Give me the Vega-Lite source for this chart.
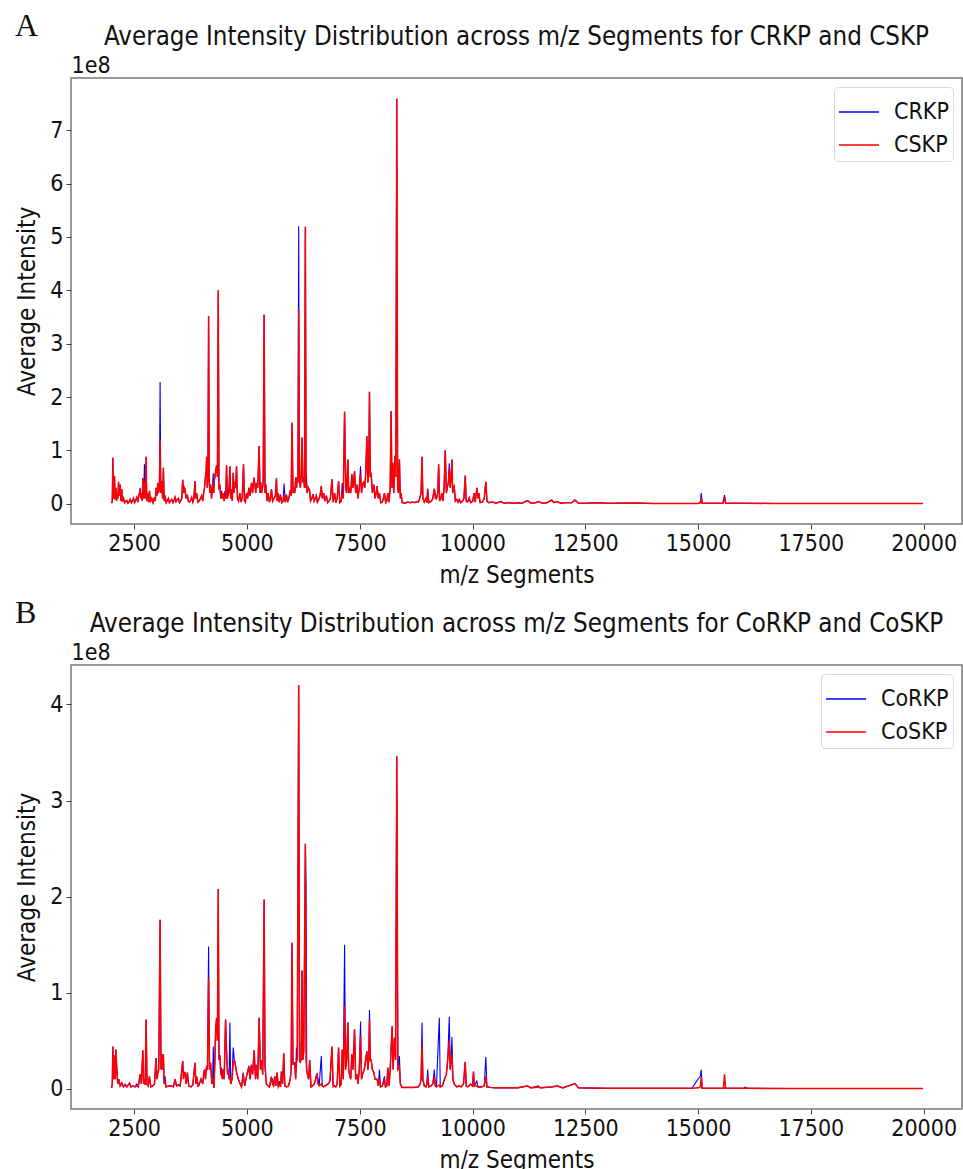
{
"$schema":"https://vega.github.io/schema/vega-lite/v6.json",
"padding":{"left":15,"top":9,"right":0,"bottom":0},
"config":{
 "font":"DejaVu Sans Condensed, DejaVu Sans",
 "view":{"stroke":"#777","strokeWidth":1.5},
 "axis":{"labelFont":"DejaVu Sans Condensed, DejaVu Sans","titleFont":"DejaVu Sans Condensed, DejaVu Sans","labelFontSize":23,"titleFontSize":24,"titleFontWeight":"normal","labelColor":"#111","titleColor":"#111","tickColor":"#444","tickSize":5,"domain":false,"grid":false,"labelPadding":3},
 "title":{"font":"DejaVu Sans Condensed, DejaVu Sans","fontSize":25.7,"fontWeight":"normal","color":"#111"},
 "legend":{"offset":9,"padding":4,"strokeColor":"#d9d9d9","cornerRadius":4,"fillColor":"white","symbolType":"stroke","symbolSize":1600,"symbolStrokeWidth":1.5,"labelFontSize":23,"labelFont":"DejaVu Sans Condensed, DejaVu Sans","labelColor":"#111","rowPadding":-1,"labelOffset":14}
},
"datasets":{
"a":[
{"mz":2000,"CSKP":0.01,"CRKP":0.01},{"mz":2015,"CSKP":0.05,"CRKP":0.05},{"mz":2028,"CSKP":0.86,"CRKP":0.86},{"mz":2040,"CSKP":0.1,"CRKP":0.1},{"mz":2052,"CSKP":0.3,"CRKP":0.3},{"mz":2065,"CSKP":0.52,"CRKP":0.52},{"mz":2075,"CSKP":0.08,"CRKP":0.08},{"mz":2085,"CSKP":0.25,"CRKP":0.25},{"mz":2095,"CSKP":0.3,"CRKP":0.3},{"mz":2110,"CSKP":0.05,"CRKP":0.05},{"mz":2125,"CSKP":0.2,"CRKP":0.2},{"mz":2140,"CSKP":0.1,"CRKP":0.1},{"mz":2154,"CSKP":0.41,"CRKP":0.41},{"mz":2165,"CSKP":0.15,"CRKP":0.15},{"mz":2178,"CSKP":0.3,"CRKP":0.3},{"mz":2191,"CSKP":0.36,"CRKP":0.36},{"mz":2205,"CSKP":0.05,"CRKP":0.05},{"mz":2215,"CSKP":0.22,"CRKP":0.22},{"mz":2227,"CSKP":0.27,"CRKP":0.27},{"mz":2240,"CSKP":0.04,"CRKP":0.04},{"mz":2264,"CSKP":0.1,"CRKP":0.1},{"mz":2290,"CSKP":0.02,"CRKP":0.02},{"mz":2315,"CSKP":0.05,"CRKP":0.05},{"mz":2338,"CSKP":0.06,"CRKP":0.06},{"mz":2360,"CSKP":0.01,"CRKP":0.01},{"mz":2390,"CSKP":0.04,"CRKP":0.04},{"mz":2412,"CSKP":0.08,"CRKP":0.08},{"mz":2440,"CSKP":0.02,"CRKP":0.02},{"mz":2465,"CSKP":0.06,"CRKP":0.06},{"mz":2485,"CSKP":0.1,"CRKP":0.1},{"mz":2510,"CSKP":0.02,"CRKP":0.02},{"mz":2535,"CSKP":0.07,"CRKP":0.07},{"mz":2559,"CSKP":0.12,"CRKP":0.12},{"mz":2580,"CSKP":0.03,"CRKP":0.03},{"mz":2605,"CSKP":0.15,"CRKP":0.15},{"mz":2633,"CSKP":0.26,"CRKP":0.3},{"mz":2650,"CSKP":0.1,"CRKP":0.1},{"mz":2665,"CSKP":0.2,"CRKP":0.2},{"mz":2680,"CSKP":0.05,"CRKP":0.05},{"mz":2692,"CSKP":0.475,"CRKP":0.475},{"mz":2710,"CSKP":0.1,"CRKP":0.1},{"mz":2728,"CSKP":0.4,"CRKP":0.74},{"mz":2745,"CSKP":0.1,"CRKP":0.1},{"mz":2765,"CSKP":0.88,"CRKP":0.88},{"mz":2780,"CSKP":0.05,"CRKP":0.05},{"mz":2802,"CSKP":0.2,"CRKP":0.2},{"mz":2820,"CSKP":0.03,"CRKP":0.03},{"mz":2839,"CSKP":0.24,"CRKP":0.24},{"mz":2860,"CSKP":0.03,"CRKP":0.03},{"mz":2891,"CSKP":0.1,"CRKP":0.1},{"mz":2920,"CSKP":0.02,"CRKP":0.02},{"mz":2950,"CSKP":0.12,"CRKP":0.12},{"mz":2970,"CSKP":0.05,"CRKP":0.05},{"mz":2986,"CSKP":0.3,"CRKP":0.3},{"mz":3005,"CSKP":0.15,"CRKP":0.15},{"mz":3023,"CSKP":0.39,"CRKP":0.39},{"mz":3040,"CSKP":0.2,"CRKP":0.2},{"mz":3060,"CSKP":0.3,"CRKP":0.3},{"mz":3075,"CSKP":1.19,"CRKP":2.28},{"mz":3090,"CSKP":0.2,"CRKP":0.2},{"mz":3112,"CSKP":0.42,"CRKP":0.42},{"mz":3130,"CSKP":0.1,"CRKP":0.1},{"mz":3148,"CSKP":0.675,"CRKP":0.675},{"mz":3165,"CSKP":0.05,"CRKP":0.05},{"mz":3185,"CSKP":0.15,"CRKP":0.15},{"mz":3210,"CSKP":0.02,"CRKP":0.02},{"mz":3235,"CSKP":0.06,"CRKP":0.06},{"mz":3259,"CSKP":0.1,"CRKP":0.1},{"mz":3280,"CSKP":0.02,"CRKP":0.02},{"mz":3305,"CSKP":0.05,"CRKP":0.05},{"mz":3333,"CSKP":0.08,"CRKP":0.08},{"mz":3360,"CSKP":0.02,"CRKP":0.02},{"mz":3385,"CSKP":0.06,"CRKP":0.06},{"mz":3406,"CSKP":0.12,"CRKP":0.12},{"mz":3430,"CSKP":0.04,"CRKP":0.04},{"mz":3455,"CSKP":0.08,"CRKP":0.08},{"mz":3480,"CSKP":0.1,"CRKP":0.1},{"mz":3505,"CSKP":0.02,"CRKP":0.02},{"mz":3530,"CSKP":0.05,"CRKP":0.05},{"mz":3555,"CSKP":0.1,"CRKP":0.1},{"mz":3576,"CSKP":0.45,"CRKP":0.45},{"mz":3595,"CSKP":0.2,"CRKP":0.2},{"mz":3610,"CSKP":0.3,"CRKP":0.3},{"mz":3627,"CSKP":0.27,"CRKP":0.27},{"mz":3650,"CSKP":0.1,"CRKP":0.1},{"mz":3679,"CSKP":0.17,"CRKP":0.17},{"mz":3700,"CSKP":0.05,"CRKP":0.05},{"mz":3725,"CSKP":0.03,"CRKP":0.03},{"mz":3750,"CSKP":0.06,"CRKP":0.06},{"mz":3775,"CSKP":0.12,"CRKP":0.12},{"mz":3800,"CSKP":0.03,"CRKP":0.03},{"mz":3825,"CSKP":0.1,"CRKP":0.1},{"mz":3848,"CSKP":0.42,"CRKP":0.42},{"mz":3865,"CSKP":0.1,"CRKP":0.1},{"mz":3885,"CSKP":0.2,"CRKP":0.2},{"mz":3910,"CSKP":0.03,"CRKP":0.03},{"mz":3940,"CSKP":0.05,"CRKP":0.05},{"mz":3970,"CSKP":0.1,"CRKP":0.1},{"mz":3996,"CSKP":0.15,"CRKP":0.15},{"mz":4020,"CSKP":0.05,"CRKP":0.05},{"mz":4040,"CSKP":0.2,"CRKP":0.2},{"mz":4060,"CSKP":0.3,"CRKP":0.3},{"mz":4080,"CSKP":0.5,"CRKP":0.5},{"mz":4095,"CSKP":0.6,"CRKP":0.6},{"mz":4106,"CSKP":0.88,"CRKP":0.88},{"mz":4120,"CSKP":0.3,"CRKP":0.3},{"mz":4135,"CSKP":0.5,"CRKP":0.5},{"mz":4150,"CSKP":3.52,"CRKP":3.52},{"mz":4165,"CSKP":0.4,"CRKP":0.4},{"mz":4180,"CSKP":0.2,"CRKP":0.2},{"mz":4195,"CSKP":0.36,"CRKP":0.36},{"mz":4215,"CSKP":0.1,"CRKP":0.1},{"mz":4235,"CSKP":0.3,"CRKP":0.3},{"mz":4254,"CSKP":0.4,"CRKP":0.57},{"mz":4265,"CSKP":0.2,"CRKP":0.2},{"mz":4276,"CSKP":0.45,"CRKP":0.45},{"mz":4290,"CSKP":0.5,"CRKP":0.5},{"mz":4305,"CSKP":0.6,"CRKP":0.6},{"mz":4327,"CSKP":0.72,"CRKP":0.72},{"mz":4345,"CSKP":0.5,"CRKP":0.5},{"mz":4364,"CSKP":4.0,"CRKP":4.0},{"mz":4380,"CSKP":0.3,"CRKP":0.3},{"mz":4401,"CSKP":0.33,"CRKP":0.33},{"mz":4420,"CSKP":0.1,"CRKP":0.1},{"mz":4438,"CSKP":0.15,"CRKP":0.24},{"mz":4455,"CSKP":0.1,"CRKP":0.1},{"mz":4475,"CSKP":0.2,"CRKP":0.2},{"mz":4495,"CSKP":0.05,"CRKP":0.05},{"mz":4511,"CSKP":0.15,"CRKP":0.24},{"mz":4530,"CSKP":0.1,"CRKP":0.1},{"mz":4548,"CSKP":0.72,"CRKP":0.72},{"mz":4565,"CSKP":0.1,"CRKP":0.1},{"mz":4585,"CSKP":0.15,"CRKP":0.27},{"mz":4600,"CSKP":0.2,"CRKP":0.2},{"mz":4622,"CSKP":0.7,"CRKP":0.7},{"mz":4640,"CSKP":0.1,"CRKP":0.1},{"mz":4659,"CSKP":0.27,"CRKP":0.27},{"mz":4675,"CSKP":0.05,"CRKP":0.05},{"mz":4696,"CSKP":0.58,"CRKP":0.58},{"mz":4715,"CSKP":0.2,"CRKP":0.2},{"mz":4733,"CSKP":0.4,"CRKP":0.4},{"mz":4750,"CSKP":0.3,"CRKP":0.3},{"mz":4769,"CSKP":0.7,"CRKP":0.7},{"mz":4790,"CSKP":0.1,"CRKP":0.1},{"mz":4815,"CSKP":0.05,"CRKP":0.05},{"mz":4843,"CSKP":0.2,"CRKP":0.2},{"mz":4870,"CSKP":0.03,"CRKP":0.03},{"mz":4895,"CSKP":0.1,"CRKP":0.1},{"mz":4924,"CSKP":0.74,"CRKP":0.74},{"mz":4945,"CSKP":0.05,"CRKP":0.05},{"mz":4965,"CSKP":0.03,"CRKP":0.03},{"mz":4990,"CSKP":0.2,"CRKP":0.2},{"mz":5015,"CSKP":0.1,"CRKP":0.1},{"mz":5042,"CSKP":0.3,"CRKP":0.3},{"mz":5070,"CSKP":0.15,"CRKP":0.15},{"mz":5101,"CSKP":0.39,"CRKP":0.39},{"mz":5125,"CSKP":0.2,"CRKP":0.2},{"mz":5153,"CSKP":0.49,"CRKP":0.49},{"mz":5175,"CSKP":0.36,"CRKP":0.36},{"mz":5195,"CSKP":0.2,"CRKP":0.2},{"mz":5211,"CSKP":0.39,"CRKP":0.39},{"mz":5240,"CSKP":0.3,"CRKP":0.3},{"mz":5270,"CSKP":1.08,"CRKP":1.08},{"mz":5290,"CSKP":0.2,"CRKP":0.2},{"mz":5305,"CSKP":0.4,"CRKP":0.4},{"mz":5322,"CSKP":0.2,"CRKP":0.2},{"mz":5345,"CSKP":0.3,"CRKP":0.3},{"mz":5360,"CSKP":0.4,"CRKP":0.4},{"mz":5381,"CSKP":3.54,"CRKP":3.54},{"mz":5400,"CSKP":0.2,"CRKP":0.2},{"mz":5418,"CSKP":0.36,"CRKP":0.36},{"mz":5445,"CSKP":0.05,"CRKP":0.05},{"mz":5469,"CSKP":0.2,"CRKP":0.2},{"mz":5500,"CSKP":0.03,"CRKP":0.03},{"mz":5520,"CSKP":0.1,"CRKP":0.1},{"mz":5543,"CSKP":0.27,"CRKP":0.27},{"mz":5570,"CSKP":0.05,"CRKP":0.05},{"mz":5600,"CSKP":0.1,"CRKP":0.1},{"mz":5630,"CSKP":0.15,"CRKP":0.15},{"mz":5654,"CSKP":0.475,"CRKP":0.475},{"mz":5670,"CSKP":0.05,"CRKP":0.05},{"mz":5690,"CSKP":0.2,"CRKP":0.2},{"mz":5715,"CSKP":0.03,"CRKP":0.03},{"mz":5742,"CSKP":0.17,"CRKP":0.17},{"mz":5770,"CSKP":0.02,"CRKP":0.02},{"mz":5800,"CSKP":0.05,"CRKP":0.05},{"mz":5823,"CSKP":0.15,"CRKP":0.38},{"mz":5850,"CSKP":0.03,"CRKP":0.03},{"mz":5875,"CSKP":0.17,"CRKP":0.17},{"mz":5900,"CSKP":0.03,"CRKP":0.03},{"mz":5930,"CSKP":0.1,"CRKP":0.1},{"mz":5960,"CSKP":0.25,"CRKP":0.25},{"mz":5980,"CSKP":0.15,"CRKP":0.15},{"mz":6000,"CSKP":1.52,"CRKP":1.52},{"mz":6020,"CSKP":0.2,"CRKP":0.2},{"mz":6040,"CSKP":0.3,"CRKP":0.3},{"mz":6060,"CSKP":0.2,"CRKP":0.2},{"mz":6081,"CSKP":0.49,"CRKP":0.49},{"mz":6100,"CSKP":0.3,"CRKP":0.3},{"mz":6115,"CSKP":0.5,"CRKP":0.5},{"mz":6130,"CSKP":0.4,"CRKP":0.4},{"mz":6147,"CSKP":3.64,"CRKP":5.2},{"mz":6160,"CSKP":0.6,"CRKP":0.6},{"mz":6169,"CSKP":0.4,"CRKP":0.4},{"mz":6185,"CSKP":0.3,"CRKP":0.3},{"mz":6200,"CSKP":0.5,"CRKP":0.5},{"mz":6221,"CSKP":1.24,"CRKP":1.24},{"mz":6240,"CSKP":0.4,"CRKP":0.4},{"mz":6260,"CSKP":0.5,"CRKP":0.5},{"mz":6275,"CSKP":0.3,"CRKP":0.3},{"mz":6295,"CSKP":5.19,"CRKP":5.19},{"mz":6310,"CSKP":0.3,"CRKP":0.3},{"mz":6317,"CSKP":0.4,"CRKP":0.52},{"mz":6335,"CSKP":0.2,"CRKP":0.2},{"mz":6360,"CSKP":0.3,"CRKP":0.3},{"mz":6390,"CSKP":0.25,"CRKP":0.25},{"mz":6410,"CSKP":0.05,"CRKP":0.05},{"mz":6440,"CSKP":0.1,"CRKP":0.1},{"mz":6464,"CSKP":0.18,"CRKP":0.18},{"mz":6490,"CSKP":0.05,"CRKP":0.05},{"mz":6515,"CSKP":0.1,"CRKP":0.1},{"mz":6538,"CSKP":0.15,"CRKP":0.15},{"mz":6560,"CSKP":0.03,"CRKP":0.03},{"mz":6590,"CSKP":0.08,"CRKP":0.08},{"mz":6620,"CSKP":0.15,"CRKP":0.15},{"mz":6648,"CSKP":0.33,"CRKP":0.33},{"mz":6670,"CSKP":0.1,"CRKP":0.1},{"mz":6700,"CSKP":0.2,"CRKP":0.2},{"mz":6725,"CSKP":0.05,"CRKP":0.05},{"mz":6759,"CSKP":0.15,"CRKP":0.15},{"mz":6790,"CSKP":0.02,"CRKP":0.02},{"mz":6820,"CSKP":0.05,"CRKP":0.05},{"mz":6850,"CSKP":0.1,"CRKP":0.1},{"mz":6884,"CSKP":0.46,"CRKP":0.46},{"mz":6910,"CSKP":0.03,"CRKP":0.03},{"mz":6943,"CSKP":0.2,"CRKP":0.2},{"mz":6970,"CSKP":0.02,"CRKP":0.02},{"mz":7000,"CSKP":0.1,"CRKP":0.1},{"mz":7031,"CSKP":0.42,"CRKP":0.42},{"mz":7060,"CSKP":0.02,"CRKP":0.02},{"mz":7090,"CSKP":0.05,"CRKP":0.05},{"mz":7112,"CSKP":0.2,"CRKP":0.39},{"mz":7135,"CSKP":0.1,"CRKP":0.1},{"mz":7164,"CSKP":1.725,"CRKP":1.725},{"mz":7190,"CSKP":0.3,"CRKP":0.3},{"mz":7210,"CSKP":0.2,"CRKP":0.2},{"mz":7238,"CSKP":0.83,"CRKP":0.83},{"mz":7255,"CSKP":0.2,"CRKP":0.2},{"mz":7274,"CSKP":0.3,"CRKP":0.3},{"mz":7300,"CSKP":0.2,"CRKP":0.2},{"mz":7326,"CSKP":0.55,"CRKP":0.55},{"mz":7345,"CSKP":0.3,"CRKP":0.3},{"mz":7360,"CSKP":0.35,"CRKP":0.35},{"mz":7385,"CSKP":0.61,"CRKP":0.61},{"mz":7410,"CSKP":0.2,"CRKP":0.2},{"mz":7437,"CSKP":0.36,"CRKP":0.36},{"mz":7460,"CSKP":0.1,"CRKP":0.1},{"mz":7490,"CSKP":0.3,"CRKP":0.3},{"mz":7518,"CSKP":0.55,"CRKP":0.7},{"mz":7540,"CSKP":0.2,"CRKP":0.2},{"mz":7560,"CSKP":0.36,"CRKP":0.36},{"mz":7584,"CSKP":0.4,"CRKP":0.4},{"mz":7610,"CSKP":0.3,"CRKP":0.3},{"mz":7635,"CSKP":0.6,"CRKP":0.6},{"mz":7658,"CSKP":1.27,"CRKP":1.27},{"mz":7680,"CSKP":0.4,"CRKP":0.4},{"mz":7700,"CSKP":0.6,"CRKP":0.6},{"mz":7716,"CSKP":2.1,"CRKP":2.1},{"mz":7735,"CSKP":0.5,"CRKP":0.5},{"mz":7753,"CSKP":0.58,"CRKP":0.58},{"mz":7780,"CSKP":0.2,"CRKP":0.2},{"mz":7812,"CSKP":0.36,"CRKP":0.36},{"mz":7840,"CSKP":0.1,"CRKP":0.1},{"mz":7865,"CSKP":0.2,"CRKP":0.2},{"mz":7886,"CSKP":0.33,"CRKP":0.33},{"mz":7910,"CSKP":0.1,"CRKP":0.1},{"mz":7938,"CSKP":0.2,"CRKP":0.2},{"mz":7965,"CSKP":0.02,"CRKP":0.02},{"mz":8000,"CSKP":0.03,"CRKP":0.03},{"mz":8025,"CSKP":0.1,"CRKP":0.1},{"mz":8048,"CSKP":0.2,"CRKP":0.2},{"mz":8075,"CSKP":0.02,"CRKP":0.02},{"mz":8100,"CSKP":0.05,"CRKP":0.05},{"mz":8122,"CSKP":0.2,"CRKP":0.2},{"mz":8150,"CSKP":0.03,"CRKP":0.03},{"mz":8175,"CSKP":0.3,"CRKP":0.3},{"mz":8195,"CSKP":1.74,"CRKP":1.74},{"mz":8215,"CSKP":0.3,"CRKP":0.3},{"mz":8232,"CSKP":0.77,"CRKP":0.77},{"mz":8255,"CSKP":0.2,"CRKP":0.2},{"mz":8280,"CSKP":0.9,"CRKP":0.9},{"mz":8300,"CSKP":0.5,"CRKP":0.5},{"mz":8321,"CSKP":7.59,"CRKP":7.59},{"mz":8340,"CSKP":0.3,"CRKP":0.3},{"mz":8360,"CSKP":0.2,"CRKP":0.2},{"mz":8380,"CSKP":0.83,"CRKP":0.83},{"mz":8400,"CSKP":0.1,"CRKP":0.1},{"mz":8417,"CSKP":0.2,"CRKP":0.2},{"mz":8440,"CSKP":0.02,"CRKP":0.02},{"mz":8500,"CSKP":0.01,"CRKP":0.01},{"mz":8560,"CSKP":0.03,"CRKP":0.03},{"mz":8620,"CSKP":0.02,"CRKP":0.02},{"mz":8674,"CSKP":0.03,"CRKP":0.03},{"mz":8720,"CSKP":0.02,"CRKP":0.02},{"mz":8760,"CSKP":0.04,"CRKP":0.04},{"mz":8800,"CSKP":0.03,"CRKP":0.03},{"mz":8830,"CSKP":0.1,"CRKP":0.1},{"mz":8860,"CSKP":0.2,"CRKP":0.2},{"mz":8881,"CSKP":0.88,"CRKP":0.88},{"mz":8900,"CSKP":0.1,"CRKP":0.1},{"mz":8930,"CSKP":0.03,"CRKP":0.03},{"mz":8969,"CSKP":0.1,"CRKP":0.1},{"mz":8990,"CSKP":0.02,"CRKP":0.02},{"mz":9006,"CSKP":0.28,"CRKP":0.28},{"mz":9030,"CSKP":0.02,"CRKP":0.02},{"mz":9060,"CSKP":0.03,"CRKP":0.03},{"mz":9090,"CSKP":0.05,"CRKP":0.05},{"mz":9120,"CSKP":0.1,"CRKP":0.1},{"mz":9153,"CSKP":0.28,"CRKP":0.28},{"mz":9175,"CSKP":0.1,"CRKP":0.18},{"mz":9200,"CSKP":0.1,"CRKP":0.1},{"mz":9230,"CSKP":0.2,"CRKP":0.2},{"mz":9249,"CSKP":0.74,"CRKP":0.74},{"mz":9270,"CSKP":0.05,"CRKP":0.05},{"mz":9300,"CSKP":0.1,"CRKP":0.1},{"mz":9320,"CSKP":0.2,"CRKP":0.2},{"mz":9345,"CSKP":0.05,"CRKP":0.05},{"mz":9370,"CSKP":0.3,"CRKP":0.3},{"mz":9396,"CSKP":1.0,"CRKP":1.0},{"mz":9420,"CSKP":0.2,"CRKP":0.2},{"mz":9440,"CSKP":0.3,"CRKP":0.3},{"mz":9465,"CSKP":0.4,"CRKP":0.4},{"mz":9485,"CSKP":0.64,"CRKP":0.76},{"mz":9505,"CSKP":0.3,"CRKP":0.3},{"mz":9525,"CSKP":0.5,"CRKP":0.5},{"mz":9544,"CSKP":0.83,"CRKP":0.83},{"mz":9560,"CSKP":0.2,"CRKP":0.2},{"mz":9575,"CSKP":0.3,"CRKP":0.3},{"mz":9595,"CSKP":0.33,"CRKP":0.33},{"mz":9620,"CSKP":0.05,"CRKP":0.05},{"mz":9650,"CSKP":0.08,"CRKP":0.08},{"mz":9680,"CSKP":0.03,"CRKP":0.03},{"mz":9706,"CSKP":0.08,"CRKP":0.08},{"mz":9740,"CSKP":0.02,"CRKP":0.02},{"mz":9780,"CSKP":0.05,"CRKP":0.05},{"mz":9810,"CSKP":0.1,"CRKP":0.1},{"mz":9839,"CSKP":0.53,"CRKP":0.53},{"mz":9860,"CSKP":0.05,"CRKP":0.05},{"mz":9890,"CSKP":0.03,"CRKP":0.03},{"mz":9927,"CSKP":0.11,"CRKP":0.11},{"mz":9960,"CSKP":0.02,"CRKP":0.02},{"mz":10000,"CSKP":0.04,"CRKP":0.04},{"mz":10038,"CSKP":0.2,"CRKP":0.2},{"mz":10060,"CSKP":0.03,"CRKP":0.03},{"mz":10096,"CSKP":0.3,"CRKP":0.3},{"mz":10120,"CSKP":0.1,"CRKP":0.1},{"mz":10140,"CSKP":0.2,"CRKP":0.2},{"mz":10170,"CSKP":0.02,"CRKP":0.02},{"mz":10220,"CSKP":0.03,"CRKP":0.03},{"mz":10260,"CSKP":0.1,"CRKP":0.1},{"mz":10295,"CSKP":0.41,"CRKP":0.41},{"mz":10320,"CSKP":0.05,"CRKP":0.05},{"mz":10360,"CSKP":0.02,"CRKP":0.02},{"mz":10443,"CSKP":0.03,"CRKP":0.03},{"mz":10520,"CSKP":0.01,"CRKP":0.01},{"mz":10627,"CSKP":0.04,"CRKP":0.04},{"mz":10700,"CSKP":0.01,"CRKP":0.01},{"mz":10811,"CSKP":0.02,"CRKP":0.02},{"mz":10900,"CSKP":0.01,"CRKP":0.01},{"mz":11000,"CSKP":0.02,"CRKP":0.02},{"mz":11100,"CSKP":0.01,"CRKP":0.01},{"mz":11216,"CSKP":0.06,"CRKP":0.06},{"mz":11300,"CSKP":0.01,"CRKP":0.01},{"mz":11400,"CSKP":0.02,"CRKP":0.02},{"mz":11460,"CSKP":0.04,"CRKP":0.04},{"mz":11550,"CSKP":0.01,"CRKP":0.01},{"mz":11650,"CSKP":0.02,"CRKP":0.02},{"mz":11755,"CSKP":0.07,"CRKP":0.07},{"mz":11800,"CSKP":0.02,"CRKP":0.02},{"mz":11880,"CSKP":0.04,"CRKP":0.04},{"mz":11950,"CSKP":0.01,"CRKP":0.01},{"mz":12050,"CSKP":0.02,"CRKP":0.02},{"mz":12200,"CSKP":0.02,"CRKP":0.02},{"mz":12270,"CSKP":0.07,"CRKP":0.07},{"mz":12350,"CSKP":0.01,"CRKP":0.01},{"mz":12500,"CSKP":0.01,"CRKP":0.01},{"mz":12800,"CSKP":0.02,"CRKP":0.02},{"mz":13000,"CSKP":0.01,"CRKP":0.01},{"mz":13684,"CSKP":0.015,"CRKP":0.015},{"mz":14000,"CSKP":0.005,"CRKP":0.005},{"mz":14500,"CSKP":0.005,"CRKP":0.005},{"mz":15000,"CSKP":0.005,"CRKP":0.005},{"mz":15050,"CSKP":0.02,"CRKP":0.02},{"mz":15070,"CSKP":0.11,"CRKP":0.2},{"mz":15090,"CSKP":0.01,"CRKP":0.01},{"mz":15550,"CSKP":0.01,"CRKP":0.01},{"mz":15586,"CSKP":0.12,"CRKP":0.16},{"mz":15610,"CSKP":0.01,"CRKP":0.01},{"mz":16043,"CSKP":0.01,"CRKP":0.01},{"mz":16632,"CSKP":0.005,"CRKP":0.005},{"mz":17500,"CSKP":0.003,"CRKP":0.003},{"mz":18500,"CSKP":0.003,"CRKP":0.003},{"mz":19984,"CSKP":0.003,"CRKP":0.003}
],
"b":[
{"mz":2000,"CoSKP":0.01,"CoRKP":0.01},{"mz":2015,"CoSKP":0.05,"CoRKP":0.05},{"mz":2028,"CoSKP":0.44,"CoRKP":0.44},{"mz":2040,"CoSKP":0.1,"CoRKP":0.1},{"mz":2052,"CoSKP":0.35,"CoRKP":0.35},{"mz":2065,"CoSKP":0.15,"CoRKP":0.15},{"mz":2080,"CoSKP":0.1,"CoRKP":0.1},{"mz":2095,"CoSKP":0.41,"CoRKP":0.41},{"mz":2110,"CoSKP":0.25,"CoRKP":0.25},{"mz":2125,"CoSKP":0.1,"CoRKP":0.17},{"mz":2140,"CoSKP":0.05,"CoRKP":0.05},{"mz":2160,"CoSKP":0.1,"CoRKP":0.1},{"mz":2190,"CoSKP":0.03,"CoRKP":0.03},{"mz":2227,"CoSKP":0.06,"CoRKP":0.06},{"mz":2260,"CoSKP":0.02,"CoRKP":0.02},{"mz":2300,"CoSKP":0.04,"CoRKP":0.05},{"mz":2340,"CoSKP":0.02,"CoRKP":0.02},{"mz":2397,"CoSKP":0.06,"CoRKP":0.06},{"mz":2430,"CoSKP":0.02,"CoRKP":0.02},{"mz":2470,"CoSKP":0.03,"CoRKP":0.03},{"mz":2520,"CoSKP":0.02,"CoRKP":0.02},{"mz":2559,"CoSKP":0.03,"CoRKP":0.05},{"mz":2590,"CoSKP":0.02,"CoRKP":0.02},{"mz":2633,"CoSKP":0.15,"CoRKP":0.15},{"mz":2660,"CoSKP":0.05,"CoRKP":0.05},{"mz":2692,"CoSKP":0.4,"CoRKP":0.4},{"mz":2710,"CoSKP":0.05,"CoRKP":0.05},{"mz":2728,"CoSKP":0.1,"CoRKP":0.1},{"mz":2745,"CoSKP":0.04,"CoRKP":0.04},{"mz":2765,"CoSKP":0.72,"CoRKP":0.72},{"mz":2785,"CoSKP":0.05,"CoRKP":0.05},{"mz":2810,"CoSKP":0.03,"CoRKP":0.03},{"mz":2839,"CoSKP":0.13,"CoRKP":0.13},{"mz":2870,"CoSKP":0.02,"CoRKP":0.02},{"mz":2910,"CoSKP":0.03,"CoRKP":0.03},{"mz":2950,"CoSKP":0.05,"CoRKP":0.05},{"mz":2986,"CoSKP":0.32,"CoRKP":0.32},{"mz":3005,"CoSKP":0.1,"CoRKP":0.1},{"mz":3023,"CoSKP":0.15,"CoRKP":0.17},{"mz":3045,"CoSKP":0.2,"CoRKP":0.2},{"mz":3075,"CoSKP":1.76,"CoRKP":1.76},{"mz":3095,"CoSKP":0.2,"CoRKP":0.2},{"mz":3112,"CoSKP":0.36,"CoRKP":0.36},{"mz":3130,"CoSKP":0.2,"CoRKP":0.2},{"mz":3148,"CoSKP":0.36,"CoRKP":0.36},{"mz":3165,"CoSKP":0.05,"CoRKP":0.05},{"mz":3185,"CoSKP":0.08,"CoRKP":0.13},{"mz":3205,"CoSKP":0.02,"CoRKP":0.02},{"mz":3259,"CoSKP":0.03,"CoRKP":0.03},{"mz":3333,"CoSKP":0.03,"CoRKP":0.03},{"mz":3370,"CoSKP":0.02,"CoRKP":0.02},{"mz":3406,"CoSKP":0.1,"CoRKP":0.1},{"mz":3440,"CoSKP":0.03,"CoRKP":0.03},{"mz":3480,"CoSKP":0.04,"CoRKP":0.04},{"mz":3520,"CoSKP":0.03,"CoRKP":0.03},{"mz":3576,"CoSKP":0.29,"CoRKP":0.29},{"mz":3590,"CoSKP":0.1,"CoRKP":0.18},{"mz":3610,"CoSKP":0.17,"CoRKP":0.17},{"mz":3627,"CoSKP":0.17,"CoRKP":0.17},{"mz":3650,"CoSKP":0.05,"CoRKP":0.05},{"mz":3679,"CoSKP":0.17,"CoRKP":0.17},{"mz":3710,"CoSKP":0.03,"CoRKP":0.03},{"mz":3760,"CoSKP":0.02,"CoRKP":0.02},{"mz":3800,"CoSKP":0.04,"CoRKP":0.04},{"mz":3848,"CoSKP":0.27,"CoRKP":0.27},{"mz":3870,"CoSKP":0.05,"CoRKP":0.05},{"mz":3885,"CoSKP":0.13,"CoRKP":0.13},{"mz":3920,"CoSKP":0.02,"CoRKP":0.02},{"mz":3980,"CoSKP":0.1,"CoRKP":0.1},{"mz":4020,"CoSKP":0.05,"CoRKP":0.05},{"mz":4040,"CoSKP":0.15,"CoRKP":0.15},{"mz":4060,"CoSKP":0.2,"CoRKP":0.2},{"mz":4080,"CoSKP":0.1,"CoRKP":0.1},{"mz":4106,"CoSKP":0.24,"CoRKP":0.24},{"mz":4125,"CoSKP":0.2,"CoRKP":0.2},{"mz":4150,"CoSKP":1.15,"CoRKP":1.48},{"mz":4170,"CoSKP":0.2,"CoRKP":0.2},{"mz":4195,"CoSKP":0.27,"CoRKP":0.27},{"mz":4220,"CoSKP":0.05,"CoRKP":0.05},{"mz":4240,"CoSKP":0.1,"CoRKP":0.1},{"mz":4254,"CoSKP":0.1,"CoRKP":0.44},{"mz":4270,"CoSKP":0.01,"CoRKP":0.01},{"mz":4290,"CoSKP":0.3,"CoRKP":0.3},{"mz":4305,"CoSKP":0.6,"CoRKP":0.6},{"mz":4327,"CoSKP":0.74,"CoRKP":0.74},{"mz":4345,"CoSKP":0.5,"CoRKP":0.5},{"mz":4364,"CoSKP":2.08,"CoRKP":2.08},{"mz":4380,"CoSKP":0.3,"CoRKP":0.3},{"mz":4401,"CoSKP":0.35,"CoRKP":0.35},{"mz":4420,"CoSKP":0.15,"CoRKP":0.15},{"mz":4438,"CoSKP":0.15,"CoRKP":0.22},{"mz":4455,"CoSKP":0.1,"CoRKP":0.1},{"mz":4475,"CoSKP":0.2,"CoRKP":0.2},{"mz":4495,"CoSKP":0.1,"CoRKP":0.1},{"mz":4526,"CoSKP":0.72,"CoRKP":0.72},{"mz":4548,"CoSKP":0.4,"CoRKP":0.4},{"mz":4570,"CoSKP":0.15,"CoRKP":0.15},{"mz":4585,"CoSKP":0.2,"CoRKP":0.2},{"mz":4605,"CoSKP":0.1,"CoRKP":0.1},{"mz":4622,"CoSKP":0.12,"CoRKP":0.69},{"mz":4640,"CoSKP":0.05,"CoRKP":0.05},{"mz":4670,"CoSKP":0.1,"CoRKP":0.1},{"mz":4696,"CoSKP":0.27,"CoRKP":0.43},{"mz":4720,"CoSKP":0.3,"CoRKP":0.3},{"mz":4733,"CoSKP":0.28,"CoRKP":0.28},{"mz":4770,"CoSKP":0.17,"CoRKP":0.17},{"mz":4810,"CoSKP":0.1,"CoRKP":0.1},{"mz":4850,"CoSKP":0.05,"CoRKP":0.05},{"mz":4880,"CoSKP":0.02,"CoRKP":0.02},{"mz":4917,"CoSKP":0.15,"CoRKP":0.17},{"mz":4950,"CoSKP":0.03,"CoRKP":0.03},{"mz":4990,"CoSKP":0.13,"CoRKP":0.13},{"mz":5042,"CoSKP":0.22,"CoRKP":0.24},{"mz":5070,"CoSKP":0.1,"CoRKP":0.1},{"mz":5096,"CoSKP":0.25,"CoRKP":0.25},{"mz":5125,"CoSKP":0.15,"CoRKP":0.15},{"mz":5160,"CoSKP":0.4,"CoRKP":0.4},{"mz":5190,"CoSKP":0.1,"CoRKP":0.1},{"mz":5210,"CoSKP":0.25,"CoRKP":0.25},{"mz":5240,"CoSKP":0.1,"CoRKP":0.1},{"mz":5270,"CoSKP":0.74,"CoRKP":0.74},{"mz":5300,"CoSKP":0.2,"CoRKP":0.2},{"mz":5322,"CoSKP":0.3,"CoRKP":0.3},{"mz":5350,"CoSKP":0.15,"CoRKP":0.15},{"mz":5381,"CoSKP":1.97,"CoRKP":1.97},{"mz":5400,"CoSKP":0.25,"CoRKP":0.25},{"mz":5430,"CoSKP":0.05,"CoRKP":0.05},{"mz":5470,"CoSKP":0.03,"CoRKP":0.03},{"mz":5500,"CoSKP":0.02,"CoRKP":0.02},{"mz":5540,"CoSKP":0.12,"CoRKP":0.12},{"mz":5565,"CoSKP":0.05,"CoRKP":0.1},{"mz":5590,"CoSKP":0.03,"CoRKP":0.03},{"mz":5617,"CoSKP":0.13,"CoRKP":0.13},{"mz":5640,"CoSKP":0.03,"CoRKP":0.03},{"mz":5668,"CoSKP":0.17,"CoRKP":0.17},{"mz":5695,"CoSKP":0.02,"CoRKP":0.02},{"mz":5727,"CoSKP":0.05,"CoRKP":0.08},{"mz":5745,"CoSKP":0.02,"CoRKP":0.02},{"mz":5764,"CoSKP":0.18,"CoRKP":0.18},{"mz":5790,"CoSKP":0.05,"CoRKP":0.05},{"mz":5816,"CoSKP":0.37,"CoRKP":0.37},{"mz":5840,"CoSKP":0.03,"CoRKP":0.03},{"mz":5880,"CoSKP":0.02,"CoRKP":0.02},{"mz":5920,"CoSKP":0.03,"CoRKP":0.03},{"mz":5960,"CoSKP":0.1,"CoRKP":0.1},{"mz":5980,"CoSKP":0.2,"CoRKP":0.2},{"mz":6000,"CoSKP":1.52,"CoRKP":1.52},{"mz":6020,"CoSKP":0.25,"CoRKP":0.25},{"mz":6040,"CoSKP":0.27,"CoRKP":0.27},{"mz":6059,"CoSKP":0.27,"CoRKP":0.27},{"mz":6080,"CoSKP":0.1,"CoRKP":0.1},{"mz":6096,"CoSKP":0.27,"CoRKP":0.43},{"mz":6115,"CoSKP":0.3,"CoRKP":0.3},{"mz":6147,"CoSKP":4.2,"CoRKP":4.2},{"mz":6165,"CoSKP":0.3,"CoRKP":0.3},{"mz":6180,"CoSKP":0.28,"CoRKP":0.28},{"mz":6200,"CoSKP":0.3,"CoRKP":0.3},{"mz":6221,"CoSKP":1.23,"CoRKP":1.23},{"mz":6240,"CoSKP":0.3,"CoRKP":0.3},{"mz":6260,"CoSKP":0.4,"CoRKP":0.4},{"mz":6295,"CoSKP":2.55,"CoRKP":2.55},{"mz":6310,"CoSKP":0.3,"CoRKP":2.13},{"mz":6325,"CoSKP":0.2,"CoRKP":0.2},{"mz":6340,"CoSKP":0.15,"CoRKP":0.15},{"mz":6368,"CoSKP":0.1,"CoRKP":0.1},{"mz":6390,"CoSKP":0.3,"CoRKP":0.3},{"mz":6420,"CoSKP":0.02,"CoRKP":0.02},{"mz":6450,"CoSKP":0.03,"CoRKP":0.03},{"mz":6480,"CoSKP":0.04,"CoRKP":0.04},{"mz":6512,"CoSKP":0.08,"CoRKP":0.08},{"mz":6552,"CoSKP":0.16,"CoRKP":0.16},{"mz":6575,"CoSKP":0.05,"CoRKP":0.1},{"mz":6600,"CoSKP":0.03,"CoRKP":0.03},{"mz":6648,"CoSKP":0.05,"CoRKP":0.34},{"mz":6670,"CoSKP":0.03,"CoRKP":0.03},{"mz":6700,"CoSKP":0.02,"CoRKP":0.02},{"mz":6760,"CoSKP":0.04,"CoRKP":0.04},{"mz":6800,"CoSKP":0.05,"CoRKP":0.05},{"mz":6840,"CoSKP":0.08,"CoRKP":0.08},{"mz":6884,"CoSKP":0.44,"CoRKP":0.44},{"mz":6910,"CoSKP":0.02,"CoRKP":0.05},{"mz":6940,"CoSKP":0.03,"CoRKP":0.03},{"mz":6970,"CoSKP":0.02,"CoRKP":0.02},{"mz":7000,"CoSKP":0.05,"CoRKP":0.05},{"mz":7031,"CoSKP":0.43,"CoRKP":0.43},{"mz":7060,"CoSKP":0.03,"CoRKP":0.03},{"mz":7090,"CoSKP":0.05,"CoRKP":0.05},{"mz":7112,"CoSKP":0.41,"CoRKP":0.41},{"mz":7135,"CoSKP":0.1,"CoRKP":0.1},{"mz":7164,"CoSKP":0.865,"CoRKP":1.5},{"mz":7185,"CoSKP":0.2,"CoRKP":0.2},{"mz":7210,"CoSKP":0.3,"CoRKP":0.3},{"mz":7238,"CoSKP":0.69,"CoRKP":0.69},{"mz":7255,"CoSKP":0.2,"CoRKP":0.2},{"mz":7274,"CoSKP":0.15,"CoRKP":0.15},{"mz":7300,"CoSKP":0.1,"CoRKP":0.1},{"mz":7326,"CoSKP":0.36,"CoRKP":0.36},{"mz":7350,"CoSKP":0.2,"CoRKP":0.2},{"mz":7385,"CoSKP":0.62,"CoRKP":0.62},{"mz":7410,"CoSKP":0.1,"CoRKP":0.1},{"mz":7437,"CoSKP":0.15,"CoRKP":0.15},{"mz":7460,"CoSKP":0.05,"CoRKP":0.05},{"mz":7490,"CoSKP":0.2,"CoRKP":0.2},{"mz":7518,"CoSKP":0.56,"CoRKP":0.7},{"mz":7540,"CoSKP":0.1,"CoRKP":0.1},{"mz":7560,"CoSKP":0.15,"CoRKP":0.15},{"mz":7600,"CoSKP":0.2,"CoRKP":0.2},{"mz":7658,"CoSKP":0.39,"CoRKP":0.39},{"mz":7680,"CoSKP":0.2,"CoRKP":0.2},{"mz":7700,"CoSKP":0.3,"CoRKP":0.3},{"mz":7716,"CoSKP":0.72,"CoRKP":0.82},{"mz":7735,"CoSKP":0.3,"CoRKP":0.3},{"mz":7753,"CoSKP":0.3,"CoRKP":0.3},{"mz":7780,"CoSKP":0.2,"CoRKP":0.2},{"mz":7812,"CoSKP":0.17,"CoRKP":0.17},{"mz":7840,"CoSKP":0.1,"CoRKP":0.1},{"mz":7886,"CoSKP":0.1,"CoRKP":0.1},{"mz":7910,"CoSKP":0.03,"CoRKP":0.03},{"mz":7938,"CoSKP":0.1,"CoRKP":0.2},{"mz":7960,"CoSKP":0.02,"CoRKP":0.02},{"mz":8000,"CoSKP":0.03,"CoRKP":0.03},{"mz":8048,"CoSKP":0.09,"CoRKP":0.13},{"mz":8070,"CoSKP":0.02,"CoRKP":0.02},{"mz":8100,"CoSKP":0.03,"CoRKP":0.03},{"mz":8122,"CoSKP":0.22,"CoRKP":0.22},{"mz":8150,"CoSKP":0.03,"CoRKP":0.03},{"mz":8175,"CoSKP":0.2,"CoRKP":0.2},{"mz":8218,"CoSKP":0.65,"CoRKP":0.65},{"mz":8240,"CoSKP":0.2,"CoRKP":0.2},{"mz":8269,"CoSKP":0.53,"CoRKP":0.53},{"mz":8295,"CoSKP":0.3,"CoRKP":0.3},{"mz":8321,"CoSKP":3.46,"CoRKP":3.46},{"mz":8345,"CoSKP":0.2,"CoRKP":0.2},{"mz":8380,"CoSKP":0.22,"CoRKP":0.34},{"mz":8400,"CoSKP":0.05,"CoRKP":0.05},{"mz":8440,"CoSKP":0.015,"CoRKP":0.015},{"mz":8500,"CoSKP":0.015,"CoRKP":0.015},{"mz":8600,"CoSKP":0.015,"CoRKP":0.015},{"mz":8700,"CoSKP":0.015,"CoRKP":0.015},{"mz":8800,"CoSKP":0.02,"CoRKP":0.02},{"mz":8840,"CoSKP":0.05,"CoRKP":0.05},{"mz":8860,"CoSKP":0.1,"CoRKP":0.1},{"mz":8881,"CoSKP":0.46,"CoRKP":0.69},{"mz":8900,"CoSKP":0.1,"CoRKP":0.1},{"mz":8930,"CoSKP":0.03,"CoRKP":0.03},{"mz":8969,"CoSKP":0.02,"CoRKP":0.02},{"mz":8990,"CoSKP":0.05,"CoRKP":0.05},{"mz":9006,"CoSKP":0.13,"CoRKP":0.2},{"mz":9030,"CoSKP":0.02,"CoRKP":0.02},{"mz":9080,"CoSKP":0.03,"CoRKP":0.03},{"mz":9120,"CoSKP":0.05,"CoRKP":0.05},{"mz":9153,"CoSKP":0.13,"CoRKP":0.2},{"mz":9175,"CoSKP":0.03,"CoRKP":0.03},{"mz":9200,"CoSKP":0.02,"CoRKP":0.02},{"mz":9264,"CoSKP":0.04,"CoRKP":0.74},{"mz":9285,"CoSKP":0.02,"CoRKP":0.02},{"mz":9330,"CoSKP":0.03,"CoRKP":0.03},{"mz":9380,"CoSKP":0.1,"CoRKP":0.1},{"mz":9420,"CoSKP":0.15,"CoRKP":0.15},{"mz":9450,"CoSKP":0.3,"CoRKP":0.3},{"mz":9485,"CoSKP":0.5,"CoRKP":0.75},{"mz":9505,"CoSKP":0.2,"CoRKP":0.2},{"mz":9525,"CoSKP":0.3,"CoRKP":0.3},{"mz":9544,"CoSKP":0.36,"CoRKP":0.54},{"mz":9565,"CoSKP":0.1,"CoRKP":0.1},{"mz":9595,"CoSKP":0.05,"CoRKP":0.05},{"mz":9650,"CoSKP":0.02,"CoRKP":0.02},{"mz":9700,"CoSKP":0.03,"CoRKP":0.03},{"mz":9750,"CoSKP":0.02,"CoRKP":0.02},{"mz":9800,"CoSKP":0.05,"CoRKP":0.05},{"mz":9839,"CoSKP":0.28,"CoRKP":0.28},{"mz":9860,"CoSKP":0.03,"CoRKP":0.03},{"mz":9900,"CoSKP":0.02,"CoRKP":0.02},{"mz":9960,"CoSKP":0.05,"CoRKP":0.05},{"mz":10000,"CoSKP":0.03,"CoRKP":0.03},{"mz":10022,"CoSKP":0.18,"CoRKP":0.18},{"mz":10040,"CoSKP":0.03,"CoRKP":0.03},{"mz":10096,"CoSKP":0.03,"CoRKP":0.08},{"mz":10120,"CoSKP":0.02,"CoRKP":0.02},{"mz":10200,"CoSKP":0.02,"CoRKP":0.02},{"mz":10260,"CoSKP":0.03,"CoRKP":0.03},{"mz":10295,"CoSKP":0.13,"CoRKP":0.33},{"mz":10320,"CoSKP":0.02,"CoRKP":0.02},{"mz":10400,"CoSKP":0.015,"CoRKP":0.015},{"mz":10500,"CoSKP":0.01,"CoRKP":0.01},{"mz":10700,"CoSKP":0.01,"CoRKP":0.01},{"mz":11000,"CoSKP":0.01,"CoRKP":0.01},{"mz":11216,"CoSKP":0.03,"CoRKP":0.03},{"mz":11300,"CoSKP":0.01,"CoRKP":0.01},{"mz":11460,"CoSKP":0.02,"CoRKP":0.03},{"mz":11500,"CoSKP":0.01,"CoRKP":0.01},{"mz":11755,"CoSKP":0.02,"CoRKP":0.02},{"mz":11880,"CoSKP":0.03,"CoRKP":0.03},{"mz":12000,"CoSKP":0.01,"CoRKP":0.01},{"mz":12270,"CoSKP":0.055,"CoRKP":0.055},{"mz":12350,"CoSKP":0.01,"CoRKP":0.01},{"mz":13000,"CoSKP":0.005,"CoRKP":0.005},{"mz":14000,"CoSKP":0.005,"CoRKP":0.005},{"mz":14862,"CoSKP":0.005,"CoRKP":0.005},{"mz":15010,"CoSKP":0.01,"CoRKP":0.11},{"mz":15050,"CoSKP":0.02,"CoRKP":0.13},{"mz":15070,"CoSKP":0.125,"CoRKP":0.2},{"mz":15090,"CoSKP":0.005,"CoRKP":0.005},{"mz":15560,"CoSKP":0.005,"CoRKP":0.005},{"mz":15586,"CoSKP":0.15,"CoRKP":0.01},{"mz":15610,"CoSKP":0.005,"CoRKP":0.005},{"mz":16000,"CoSKP":0.005,"CoRKP":0.005},{"mz":16043,"CoSKP":0.005,"CoRKP":0.02},{"mz":16080,"CoSKP":0.005,"CoRKP":0.005},{"mz":17000,"CoSKP":0.003,"CoRKP":0.003},{"mz":19984,"CoSKP":0.003,"CoRKP":0.003}
]
},
"resolve":{"scale":{"color":"independent","x":"independent","y":"independent"},"legend":{"color":"independent"}},
"spacing":8,
"vconcat":[
 {"title":{"text":"A","anchor":"start","font":"Liberation Serif","fontSize":32,"fontWeight":"normal","color":"#111","offset":0,"dy":19},
  "resolve":{"scale":{"color":"independent"},"legend":{"color":"independent"}},
  "vconcat":[{
   "title":{"text":"Average Intensity Distribution across m/z Segments for CRKP and CSKP","anchor":"middle","offset":3},
   "width":891,"height":446,
   "data":{"name":"a"},
   "transform":[{"fold":["CRKP","CSKP"],"as":["series","intensity"]},{"filter":"isValid(datum.intensity)"}],
   "layer":[
    {"transform":[{"filter":"datum.series === 'CRKP'"}],
     "mark":{"type":"line","strokeWidth":1.1},
     "encoding":{
      "x":{"field":"mz","type":"quantitative","scale":{"domain":[1100,20850],"nice":false,"zero":false},"axis":{"values":[2500,5000,7500,10000,12500,15000,17500,20000],"format":"d","title":"m/z Segments","titlePadding":8}},
      "y":{"field":"intensity","type":"quantitative","scale":{"domain":[-0.38,7.98],"nice":false,"zero":false},"axis":{"values":[0,1,2,3,4,5,6,7],"format":"d","title":"Average Intensity","titlePadding":10}},
      "color":{"field":"series","type":"nominal","scale":{"domain":["CRKP","CSKP"],"range":["#0000ff","#ff0000"]},"legend":{"title":null,"orient":"top-right"}}}},
    {"transform":[{"filter":"datum.series === 'CSKP'"}],
     "mark":{"type":"line","strokeWidth":1.5},
     "encoding":{
      "x":{"field":"mz","type":"quantitative","axis":null},
      "y":{"field":"intensity","type":"quantitative"},
      "color":{"field":"series","type":"nominal","legend":{"title":null,"orient":"top-right"}}}},
    {"transform":[{"filter":"datum.series === 'CSKP' && datum.mz === 2000"}],
     "mark":{"type":"rule","opacity":0},
     "encoding":{
      "x":{"field":"mz","type":"quantitative","axis":{"orient":"top","title":"1e8","labels":false,"ticks":false,"domain":false,"titleAnchor":"start","titleAlign":"left","titlePadding":1,"titleFontSize":23}}}}
   ],
   "resolve":{"axis":{"x":"independent"}}
  }]},
 {"title":{"text":"B","anchor":"start","font":"Liberation Serif","fontSize":32,"fontWeight":"normal","color":"#111","offset":0,"dy":19},
  "resolve":{"scale":{"color":"independent"},"legend":{"color":"independent"}},
  "vconcat":[{
   "title":{"text":"Average Intensity Distribution across m/z Segments for CoRKP and CoSKP","anchor":"middle","offset":3},
   "width":891,"height":444,
   "data":{"name":"b"},
   "transform":[{"fold":["CoRKP","CoSKP"],"as":["series","intensity"]},{"filter":"isValid(datum.intensity)"}],
   "layer":[
    {"transform":[{"filter":"datum.series === 'CoRKP'"}],
     "mark":{"type":"line","strokeWidth":1.1},
     "encoding":{
      "x":{"field":"mz","type":"quantitative","scale":{"domain":[1100,20850],"nice":false,"zero":false},"axis":{"values":[2500,5000,7500,10000,12500,15000,17500,20000],"format":"d","title":"m/z Segments","titlePadding":8}},
      "y":{"field":"intensity","type":"quantitative","scale":{"domain":[-0.21,4.41],"nice":false,"zero":false},"axis":{"values":[0,1,2,3,4],"format":"d","title":"Average Intensity","titlePadding":10}},
      "color":{"field":"series","type":"nominal","scale":{"domain":["CoRKP","CoSKP"],"range":["#0000ff","#ff0000"]},"legend":{"title":null,"orient":"top-right"}}}},
    {"transform":[{"filter":"datum.series === 'CoSKP'"}],
     "mark":{"type":"line","strokeWidth":1.5},
     "encoding":{
      "x":{"field":"mz","type":"quantitative","axis":null},
      "y":{"field":"intensity","type":"quantitative"},
      "color":{"field":"series","type":"nominal","legend":{"title":null,"orient":"top-right"}}}},
    {"transform":[{"filter":"datum.series === 'CoSKP' && datum.mz === 2000"}],
     "mark":{"type":"rule","opacity":0},
     "encoding":{
      "x":{"field":"mz","type":"quantitative","axis":{"orient":"top","title":"1e8","labels":false,"ticks":false,"domain":false,"titleAnchor":"start","titleAlign":"left","titlePadding":1,"titleFontSize":23}}}}
   ],
   "resolve":{"axis":{"x":"independent"}}
  }]}
]
}
